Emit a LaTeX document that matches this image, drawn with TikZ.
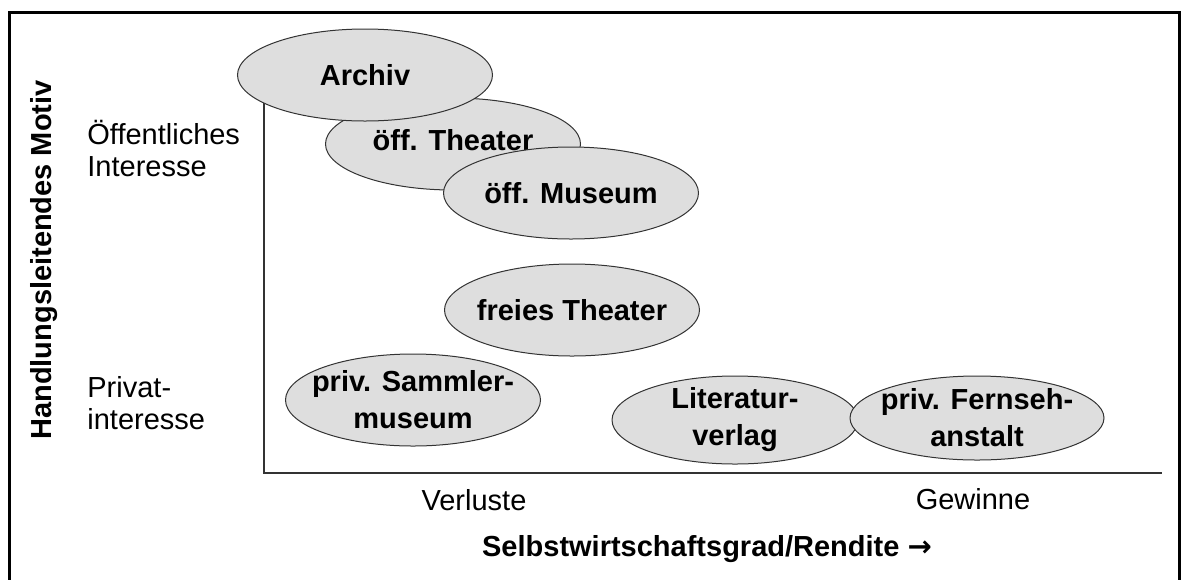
\documentclass[tikz,border=0pt]{standalone}
\usepackage{fontspec}
\setmainfont{Liberation Sans}
\newfontfamily\arrowfont{DejaVu Sans}
\usetikzlibrary{shapes.geometric, positioning}
\definecolor{ovalFill}{HTML}{DEDEDE}
\definecolor{lineGray}{HTML}{333333}

\begin{document}
\begin{tikzpicture}[
  x=0.5pt, y=-0.5pt,
  oval/.style={
    ellipse, draw=lineGray, fill=ovalFill, line width=0.5pt,
    minimum width=127.5pt, minimum height=46pt, inner sep=-20pt,
    font=\fontsize{14.5}{18.5}\selectfont\bfseries, align=center,
  },
  axis/.style={draw=lineGray, line width=1pt},
  frame/.style={draw=black, line width=1.5pt},
  lbl/.style={font=\fontsize{14.5}{16}\selectfont, inner sep=0pt},
]
\useasboundingbox (0,0) rectangle (1182,579);

% Frame (open at the bottom)
\coordinate (fbl) at (9,590);
\coordinate (ftl) at (9,12);
\coordinate (ftr) at (1179,12);
\coordinate (fbr) at (1179,590);
\draw[frame] (fbl) -- (ftl) -- (ftr) -- (fbr);

% Axes
\coordinate (ytop) at (264,90);
\coordinate (origin) at (264,473);
\coordinate (xend) at (1162,473);
\draw[axis] (ytop) -- (origin) -- (xend);

% Ovals -- public side
\node[oval] (oeffTheater) at (453,144) {\raisebox{4pt}{öff. Theater}};
\node[oval] (archiv) at (365,75) {Archiv};
\node[oval] (oeffMuseum) at (571,193) {öff. Museum};
\node[oval] (freiesTheater) at (572,310) {freies Theater};

% Ovals -- private side
\node[oval] (sammler) at (413,400) {priv. Sammler-\\museum};
\node[oval, minimum width=123pt, minimum height=44pt] (verlag) at (735,420) {Literatur-\\verlag};
\node[oval, minimum width=127pt, minimum height=42pt] (fernsehen) at (977,418) {priv. Fernseh-\\anstalt};

% Axis labels
\node[lbl, anchor=west, align=left] (oeffInteresse) at (87,148) {Öffentliches\\Interesse};
\node[lbl, anchor=west, align=left] (privInteresse) at (87,403) {Privat-\\interesse};
\node[lbl] (verluste) at (474,500) {Verluste};
\node[lbl] (gewinne) at (973,499) {Gewinne};
\node[lbl, font=\fontsize{14.5}{16}\selectfont\bfseries] (xtitle) at (707,549)
  {Selbstwirtschaftsgrad/Rendite {\arrowfont→}};
\node[lbl, font=\fontsize{14.5}{16}\selectfont\bfseries, rotate=90] (ytitle) at (44,260)
  {Handlungsleitendes Motiv};

\end{tikzpicture}
\end{document}
